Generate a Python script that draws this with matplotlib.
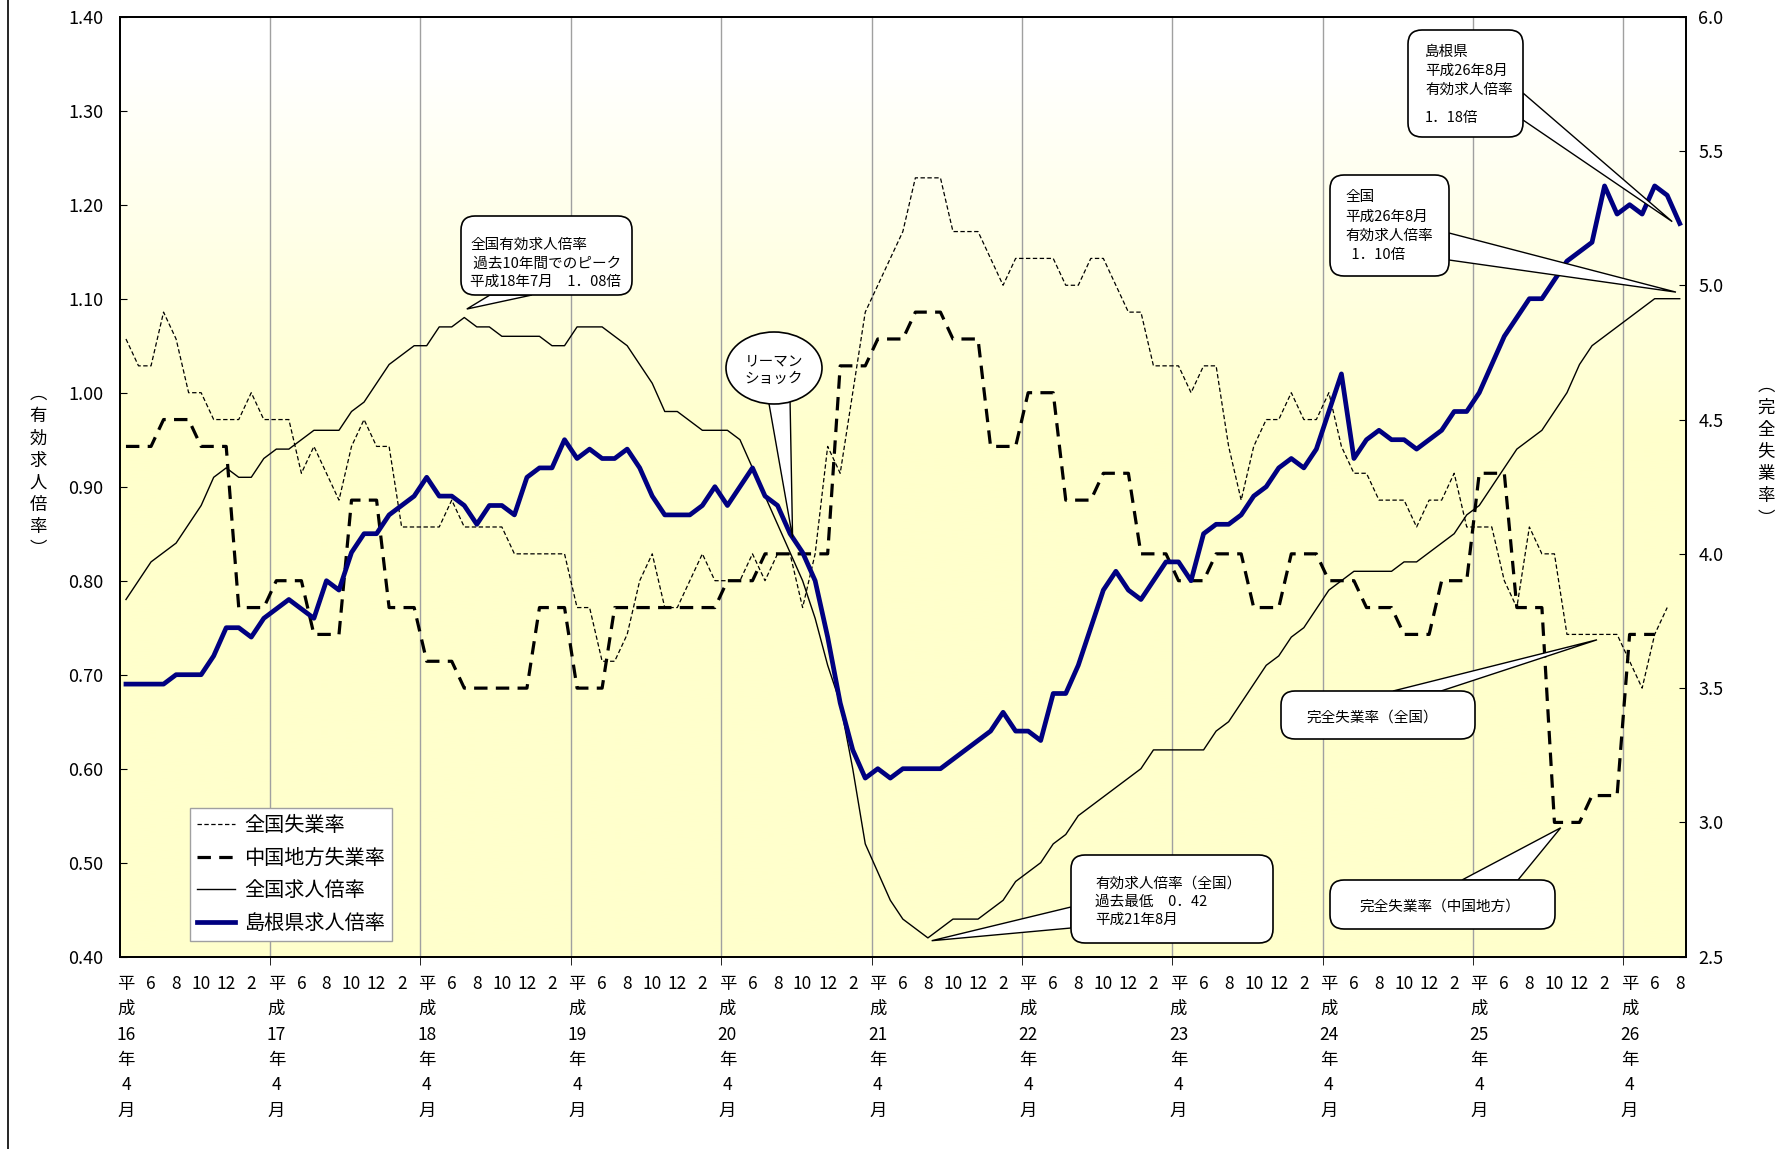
import numpy as np
import matplotlib.pyplot as plt
from matplotlib.patches import FancyBboxPatch, Ellipse, Polygon
from matplotlib.lines import Line2D
from matplotlib.transforms import IdentityTransform

plt.rcParams['font.family'] = ['Noto Sans CJK JP', 'DejaVu Sans']

W, H = 1783, 1149

# 平成16年4月 ～ 平成26年8月（月次）
shimane_ratio = [
    0.69, 0.69, 0.69, 0.69, 0.70, 0.70, 0.70, 0.72, 0.75, 0.75, 0.74, 0.76,
    0.77, 0.78, 0.77, 0.76, 0.80, 0.79, 0.83, 0.85, 0.85, 0.87, 0.88, 0.89,
    0.91, 0.89, 0.89, 0.88, 0.86, 0.88, 0.88, 0.87, 0.91, 0.92, 0.92, 0.95,
    0.93, 0.94, 0.93, 0.93, 0.94, 0.92, 0.89, 0.87, 0.87, 0.87, 0.88, 0.90,
    0.88, 0.90, 0.92, 0.89, 0.88, 0.85, 0.83, 0.80, 0.74, 0.67, 0.62, 0.59,
    0.60, 0.59, 0.60, 0.60, 0.60, 0.60, 0.61, 0.62, 0.63, 0.64, 0.66, 0.64,
    0.64, 0.63, 0.68, 0.68, 0.71, 0.75, 0.79, 0.81, 0.79, 0.78, 0.80, 0.82,
    0.82, 0.80, 0.85, 0.86, 0.86, 0.87, 0.89, 0.90, 0.92, 0.93, 0.92, 0.94,
    0.98, 1.02, 0.93, 0.95, 0.96, 0.95, 0.95, 0.94, 0.95, 0.96, 0.98, 0.98,
    1.00, 1.03, 1.06, 1.08, 1.10, 1.10, 1.12, 1.14, 1.15, 1.16, 1.22, 1.19,
    1.20, 1.19, 1.22, 1.21, 1.18,
]

national_ratio = [
    0.78, 0.80, 0.82, 0.83, 0.84, 0.86, 0.88, 0.91, 0.92, 0.91, 0.91, 0.93,
    0.94, 0.94, 0.95, 0.96, 0.96, 0.96, 0.98, 0.99, 1.01, 1.03, 1.04, 1.05,
    1.05, 1.07, 1.07, 1.08, 1.07, 1.07, 1.06, 1.06, 1.06, 1.06, 1.05, 1.05,
    1.07, 1.07, 1.07, 1.06, 1.05, 1.03, 1.01, 0.98, 0.98, 0.97, 0.96, 0.96,
    0.96, 0.95, 0.92, 0.89, 0.86, 0.83, 0.80, 0.76, 0.71, 0.67, 0.60, 0.52,
    0.49, 0.46, 0.44, 0.43, 0.42, 0.43, 0.44, 0.44, 0.44, 0.45, 0.46, 0.48,
    0.49, 0.50, 0.52, 0.53, 0.55, 0.56, 0.57, 0.58, 0.59, 0.60, 0.62, 0.62,
    0.62, 0.62, 0.62, 0.64, 0.65, 0.67, 0.69, 0.71, 0.72, 0.74, 0.75, 0.77,
    0.79, 0.80, 0.81, 0.81, 0.81, 0.81, 0.82, 0.82, 0.83, 0.84, 0.85, 0.87,
    0.88, 0.90, 0.92, 0.94, 0.95, 0.96, 0.98, 1.00, 1.03, 1.05, 1.06, 1.07,
    1.08, 1.09, 1.10, 1.10, 1.10,
]

# 完全失業率（全国） 平成26年7月まで
national_unemp = [
    4.8, 4.7, 4.7, 4.9, 4.8, 4.6, 4.6, 4.5, 4.5, 4.5, 4.6, 4.5,
    4.5, 4.5, 4.3, 4.4, 4.3, 4.2, 4.4, 4.5, 4.4, 4.4, 4.1, 4.1,
    4.1, 4.1, 4.2, 4.1, 4.1, 4.1, 4.1, 4.0, 4.0, 4.0, 4.0, 4.0,
    3.8, 3.8, 3.6, 3.6, 3.7, 3.9, 4.0, 3.8, 3.8, 3.9, 4.0, 3.9,
    3.9, 3.9, 4.0, 3.9, 4.0, 4.0, 3.8, 4.0, 4.4, 4.3, 4.6, 4.9,
    5.0, 5.1, 5.2, 5.4, 5.4, 5.4, 5.2, 5.2, 5.2, 5.1, 5.0, 5.1,
    5.1, 5.1, 5.1, 5.0, 5.0, 5.1, 5.1, 5.0, 4.9, 4.9, 4.7, 4.7,
    4.7, 4.6, 4.7, 4.7, 4.4, 4.2, 4.4, 4.5, 4.5, 4.6, 4.5, 4.5,
    4.6, 4.4, 4.3, 4.3, 4.2, 4.2, 4.2, 4.1, 4.2, 4.2, 4.3, 4.1,
    4.1, 4.1, 3.9, 3.8, 4.1, 4.0, 4.0, 3.7, 3.7, 3.7, 3.7, 3.7,
    3.6, 3.5, 3.7, 3.8,
]

# 完全失業率（中国地方） 四半期値を月ごとに表示、平成26年6月まで
chugoku_unemp = [
    4.4, 4.4, 4.4, 4.5, 4.5, 4.5, 4.4, 4.4, 4.4, 3.8, 3.8, 3.8,
    3.9, 3.9, 3.9, 3.7, 3.7, 3.7, 4.2, 4.2, 4.2, 3.8, 3.8, 3.8,
    3.6, 3.6, 3.6, 3.5, 3.5, 3.5, 3.5, 3.5, 3.5, 3.8, 3.8, 3.8,
    3.5, 3.5, 3.5, 3.8, 3.8, 3.8, 3.8, 3.8, 3.8, 3.8, 3.8, 3.8,
    3.9, 3.9, 3.9, 4.0, 4.0, 4.0, 4.0, 4.0, 4.0, 4.7, 4.7, 4.7,
    4.8, 4.8, 4.8, 4.9, 4.9, 4.9, 4.8, 4.8, 4.8, 4.4, 4.4, 4.4,
    4.6, 4.6, 4.6, 4.2, 4.2, 4.2, 4.3, 4.3, 4.3, 4.0, 4.0, 4.0,
    3.9, 3.9, 3.9, 4.0, 4.0, 4.0, 3.8, 3.8, 3.8, 4.0, 4.0, 4.0,
    3.9, 3.9, 3.9, 3.8, 3.8, 3.8, 3.7, 3.7, 3.7, 3.9, 3.9, 3.9,
    4.3, 4.3, 4.3, 3.8, 3.8, 3.8, 3.0, 3.0, 3.0, 3.1, 3.1, 3.1,
    3.7, 3.7, 3.7,
]

year_labels = ['16', '17', '18', '19', '20', '21', '22', '23', '24', '25', '26']
month_labels = ['6', '8', '10', '12', '2']

n = len(shimane_ratio)
tick_pos, tick_lab = [], []
for k, yr in enumerate(year_labels):
    tick_pos.append(12 * k)
    tick_lab.append('平\n成\n' + yr + '\n年\n4\n月')
    for j, m in enumerate(month_labels):
        p = 12 * k + 2 * (j + 1)
        if p < n:
            tick_pos.append(p)
            tick_lab.append(m)
year_bounds = [12 * k - 0.5 for k in range(1, len(year_labels))]

fig = plt.figure(figsize=(W / 100, H / 100), dpi=100)
ax_u = fig.add_axes([119.7 / W, 1 - 956.7 / H, 1566.3 / W, 940 / H])
ax_r = ax_u.twinx()
ax_u.yaxis.tick_right()
ax_r.yaxis.tick_left()
ax_r.yaxis.set_label_position('left')
ax_u.yaxis.set_label_position('right')

# background gradient (white -> light yellow)
f = np.linspace(0, 1, 300)
t = np.clip((f - 0.05) / 0.40, 0, 1)
grad = np.ones((300, 1, 3))
grad[:, 0, 2] = 1 - 0.2 * t
ax_u.imshow(grad, extent=[0, 1, 0, 1], transform=ax_u.transAxes,
            aspect='auto', zorder=0, interpolation='bilinear')

l1, = ax_u.plot(np.arange(len(national_unemp)), national_unemp, color='black',
                lw=0.9, dashes=(3.5, 2), label='全国失業率', zorder=3)
l2, = ax_u.plot(np.arange(len(chugoku_unemp)), chugoku_unemp, color='black',
                lw=2.3, dashes=(4.2, 2.6), label='中国地方失業率', zorder=3)
l3, = ax_r.plot(np.arange(n), national_ratio, color='black', lw=1.0,
                label='全国求人倍率', zorder=3)
l4, = ax_r.plot(np.arange(n), shimane_ratio, color='#000080', lw=3.4,
                label='島根県求人倍率', zorder=4)

ax_u.set_xlim(-0.5, n - 0.5)
ax_u.set_ylim(2.5, 6.0)
ax_r.set_ylim(0.40, 1.40)

ax_u.set_yticks(np.arange(2.5, 6.01, 0.5))
ax_u.set_yticklabels([f'{v:.1f}' for v in np.arange(2.5, 6.01, 0.5)])
ax_r.set_yticks(np.arange(0.40, 1.401, 0.10))
ax_r.set_yticklabels([f'{v:.2f}' for v in np.arange(0.40, 1.401, 0.10)])
ax_u.tick_params(axis='y', direction='in', length=5, labelsize=13, pad=9)
ax_r.tick_params(axis='y', direction='in', length=5, labelsize=13, pad=12)

ax_u.set_xticks(tick_pos)
ax_u.set_xticklabels(tick_lab)
ax_u.set_xticks(year_bounds, minor=True)
ax_u.tick_params(axis='x', which='major', length=0, labelsize=12.5, pad=13)
ax_u.tick_params(axis='x', which='minor', length=6, direction='out')
ax_u.xaxis.grid(True, which='minor', color='#a0a0a0', lw=1.0)
for lab in ax_u.get_xticklabels():
    lab.set_linespacing(1.53)

for a in (ax_u, ax_r):
    for s in a.spines.values():
        s.set_linewidth(1.3)
        s.set_color('black')

ax_r.set_ylabel('︵\n有\n効\n求\n人\n倍\n率\n︶', rotation=0, fontsize=12.5,
                linespacing=1.3, va='center', ha='center')
ax_r.yaxis.set_label_coords(-0.0522, 0.516)
ax_u.set_ylabel('︵\n完\n全\n失\n業\n率\n︶', rotation=0, fontsize=12.5,
                linespacing=1.3, va='center', ha='center')
ax_u.yaxis.set_label_coords(1.0511, 0.537)

leg = ax_r.legend(handles=[l1, l2, l3, l4], loc='lower left',
                  bbox_to_anchor=(0.0449, 0.0167), borderaxespad=0,
                  fancybox=False, framealpha=1, edgecolor='#a0a0a0',
                  fontsize=14.5, handlelength=1.9, handletextpad=0.45,
                  labelspacing=0.58, borderpad=0.35)
leg.get_frame().set_linewidth(1.0)
leg.set_zorder(10)

# callouts (pixel positions measured from the top-left corner)
fig.canvas.draw()
ID = IdentityTransform()


def data_px(ax, x, y):
    X, Y = ax.transData.transform((x, y))
    return X, H - Y


def wedge(b1, b2, tip):
    pts = [(b1[0], H - b1[1]), (tip[0], H - tip[1]), (b2[0], H - b2[1])]
    fig.add_artist(Polygon(pts, closed=True, facecolor='white', edgecolor='black',
                           lw=1.0, transform=ID, zorder=5))


def box(x0, y0, x1, y1):
    fig.add_artist(FancyBboxPatch((x0, H - y1), x1 - x0, y1 - y0,
                                  boxstyle='round,pad=0,rounding_size=14',
                                  facecolor='white', edgecolor='black', lw=1.2,
                                  transform=ID, zorder=6))


def lines_text(x, y0, dy, lines, ha='left'):
    for k, s in enumerate(lines):
        fig.text(x / W, 1 - (y0 + k * dy) / H, s, fontsize=10.5, ha=ha,
                 va='center', zorder=7)


# 全国 ピーク
wedge((490, 295), (532, 295), data_px(ax_r, 27.2, 1.089))
box(461, 216, 632, 295)
lines_text(470, 245, 18.5, ['全国有効求人倍率', ' 過去10年間でのピーク', '平成18年7月　1．08倍'])

# リーマンショック
wedge((768, 398), (790, 398), data_px(ax_r, 53.2, 0.846))
fig.add_artist(Ellipse((774, H - 368), 96, 72, facecolor='white', edgecolor='black',
                       lw=1.2, transform=ID, zorder=6))
lines_text(774, 361, 18, ['リーマン', 'ショック'], ha='center')

# 島根県 平成26年8月
wedge((1523, 93), (1523, 120), data_px(ax_r, 123.4, 1.182))
box(1408, 30, 1523, 137)
lines_text(1425, 52, 19, ['島根県', '平成26年8月', '有効求人倍率'])
lines_text(1425, 118, 19, ['1．18倍'])

# 全国 平成26年8月
wedge((1449, 233), (1449, 260), data_px(ax_r, 123.7, 1.107))
box(1330, 175, 1449, 276)
lines_text(1345, 197, 19.3, ['全国', '平成26年8月', '有効求人倍率', '  1．10倍'])

# 完全失業率（全国）
wedge((1393, 691), (1441, 691), data_px(ax_u, 117.4, 3.68))
box(1281, 691, 1475, 739)
lines_text(1372, 718, 18, ['完全失業率（全国）'], ha='center')

# 完全失業率（中国地方）
wedge((1462, 880), (1518, 880), data_px(ax_u, 114.5, 2.98))
box(1330, 880, 1555, 929)
lines_text(1440, 907, 18, ['完全失業率（中国地方）'], ha='center')

# 過去最低
wedge((1071, 907), (1071, 928), data_px(ax_r, 64.3, 0.417))
box(1071, 855, 1273, 943)
lines_text(1095, 884, 18, ['有効求人倍率（全国）', '過去最低　0．42', '平成21年8月'])

# chart area border (left edge)
fig.add_artist(Line2D([8 / W, 8 / W], [0, 1], transform=fig.transFigure,
                      color='black', lw=1.2))

fig.savefig('out.png', dpi=100)
